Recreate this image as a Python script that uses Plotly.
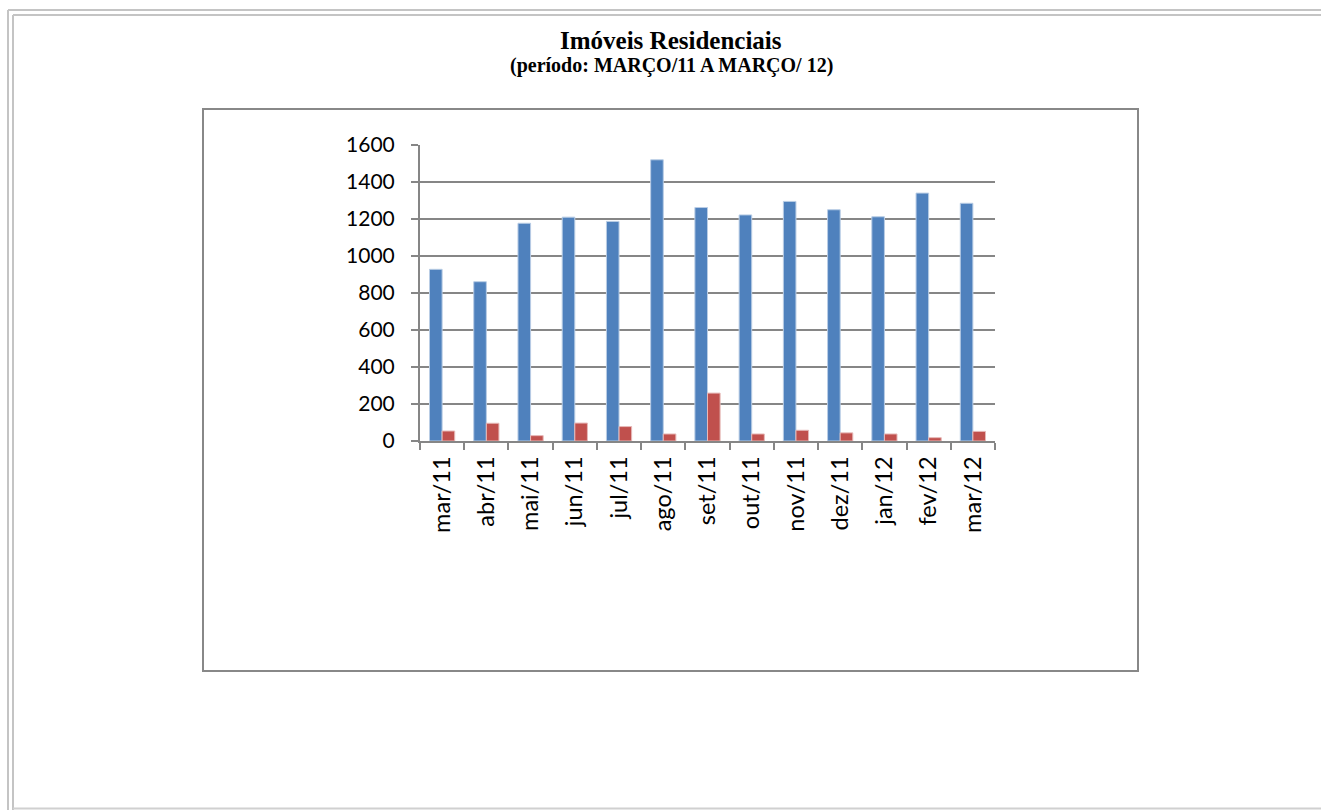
import plotly.graph_objects as go

categories = ["mar/11", "abr/11", "mai/11", "jun/11", "jul/11", "ago/11", "set/11",
              "out/11", "nov/11", "dez/11", "jan/12", "fev/12", "mar/12"]
serie_a = [928, 861, 1177, 1210, 1187, 1520, 1262, 1222, 1295, 1250, 1212, 1340, 1285]
serie_b = [54, 96, 29, 97, 78, 38, 259, 38, 58, 44, 38, 18, 52]
y_ticks = [0, 200, 400, 600, 800, 1000, 1200, 1400, 1600]

W, H = 1321, 810
def px(x): return x / W
def py(y): return 1 - y / H

fig = go.Figure()
fig.add_trace(go.Bar(x=categories, y=serie_a, marker=dict(color="#4F81BD", line=dict(color="#B9CDE5", width=1)), showlegend=False))
fig.add_trace(go.Bar(x=categories, y=serie_b, marker=dict(color="#C0504D", line=dict(color="#E6B9B8", width=1)), showlegend=False))

grid = "#868686"
fig.update_layout(
    width=W, height=H, autosize=False,
    margin=dict(l=0, r=0, t=0, b=0, pad=0, autoexpand=False),
    paper_bgcolor="white", plot_bgcolor="white",
    barmode="group", bargap=0.43, bargroupgap=0,
    xaxis=dict(domain=[px(420), px(995)], type="category", tickson="boundaries", automargin=False,
               ticks="outside", ticklen=7, tickwidth=2, tickcolor=grid,
               showline=True, linecolor=grid, linewidth=2, showgrid=False,
               tickangle=-90, tickfont=dict(family="Lato", size=23.5, color="black"),
               ticklabelstandoff=4),
    yaxis=dict(domain=[py(441), py(145)], range=[0, 1600], tickvals=y_ticks, automargin=False,
               ticks="outside", ticklen=7, tickwidth=2, tickcolor=grid,
               showline=True, linecolor=grid, linewidth=2,
               showgrid=True, gridcolor=grid, gridwidth=2, zeroline=False,
               tickfont=dict(family="Lato", size=21, color="black"),
               ticklabelstandoff=12),
)

shapes = [
    dict(type="rect", xref="paper", yref="paper", x0=px(203), x1=px(1138), y0=py(671), y1=py(109),
         line=dict(color="#888888", width=2), layer="below"),
    dict(type="line", xref="paper", yref="paper", x0=px(8), x1=1, y0=py(10), y1=py(10), line=dict(color="#C4C4C4", width=2)),
    dict(type="line", xref="paper", yref="paper", x0=px(13), x1=1, y0=py(15), y1=py(15), line=dict(color="#C4C4C4", width=2)),
    dict(type="line", xref="paper", yref="paper", x0=px(8), x1=px(8), y0=py(10), y1=0, line=dict(color="#C4C4C4", width=2)),
    dict(type="line", xref="paper", yref="paper", x0=px(13), x1=px(13), y0=py(15), y1=0, line=dict(color="#C4C4C4", width=2)),
    dict(type="line", xref="paper", yref="paper", x0=px(13), x1=1, y0=py(808.5), y1=py(808.5), line=dict(color="#D0D0D0", width=2)),
]
fig.update_layout(shapes=shapes)

fig.add_annotation(text="<b>Imóveis Residenciais</b>", xref="paper", yref="paper", x=px(671), y=py(41),
                   xanchor="center", yanchor="middle",
                   showarrow=False, font=dict(family="Liberation Serif", size=25, color="black"))
fig.add_annotation(text="<b>(período: MARÇO/11 A MARÇO/ 12)</b>", xref="paper", yref="paper", x=px(671), y=py(65.5),
                   xanchor="center", yanchor="middle",
                   showarrow=False, font=dict(family="Liberation Serif", size=20, color="black"))

fig.write_html("out.html", config={"displayModeBar": False},
               post_script="document.body.style.margin='0';document.documentElement.style.overflow='hidden';document.body.style.overflow='hidden';")
